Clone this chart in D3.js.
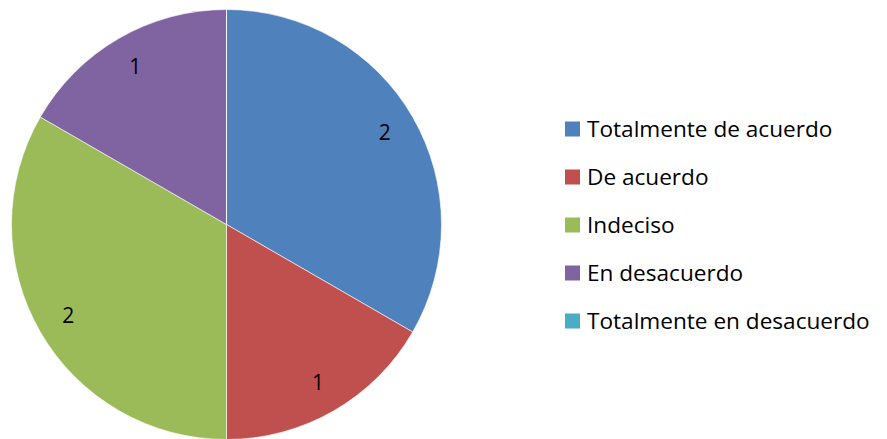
<!DOCTYPE html>
<html>
<head>
<meta charset="utf-8">
<script src="https://cdn.jsdelivr.net/npm/d3@7"></script>
<style>
  body { margin: 0; background: #fff; }
  text { font-family: "Open Sans", "Noto Sans", sans-serif; fill: #000; }
</style>
</head>
<body>
<script>
// chart data
var categories = ["Totalmente de acuerdo", "De acuerdo", "Indeciso", "En desacuerdo", "Totalmente en desacuerdo"];
var values = [2, 1, 2, 1, 0];
var colors = ["#4F81BD", "#C0504D", "#9BBB59", "#8064A2", "#4BACC6"];

var width = 887, height = 439;
var cx = 226.5, cy = 224.5, radius = 215;

var svg = d3.select("body").append("svg")
	.attr("width", width)
	.attr("height", height);

var pie = d3.pie().sort(null).value(function(d) { return d; });
var arc = d3.arc().innerRadius(0).outerRadius(radius);
var labelArc = d3.arc().innerRadius(radius * 0.85).outerRadius(radius * 0.85);

var g = svg.append("g")
	.attr("transform", "translate(" + cx + "," + cy + ")");

var slices = pie(values);

g.selectAll("path")
	.data(slices)
	.enter().append("path")
	.attr("d", arc)
	.attr("fill", function(d, i) { return colors[i]; })
	.attr("stroke", "#ffffff")
	.attr("stroke-opacity", 0.6)
	.attr("stroke-width", 1);

// value labels
g.selectAll(".lbl")
	.data(slices.filter(function(d) { return d.value > 0; }))
	.enter().append("text")
	.attr("class", "lbl")
	.attr("transform", function(d) { return "translate(" + labelArc.centroid(d) + ")"; })
	.attr("text-anchor", "middle")
	.attr("dy", "0.35em")
	.attr("font-size", 21)
	.text(function(d) { return d.value; });

// legend
var legend = svg.append("g").attr("transform", "translate(565,129)");
var rows = legend.selectAll("g")
	.data(categories)
	.enter().append("g")
	.attr("transform", function(d, i) { return "translate(0," + (i * 48) + ")"; });

rows.append("rect")
	.attr("x", 0)
	.attr("y", -7.5)
	.attr("width", 15)
	.attr("height", 15)
	.attr("fill", function(d, i) { return colors[i]; });

rows.append("text")
	.attr("x", 22)
	.attr("dy", "0.36em")
	.attr("font-size", 22.6)
	.text(function(d) { return d; });
</script>
</body>
</html>
